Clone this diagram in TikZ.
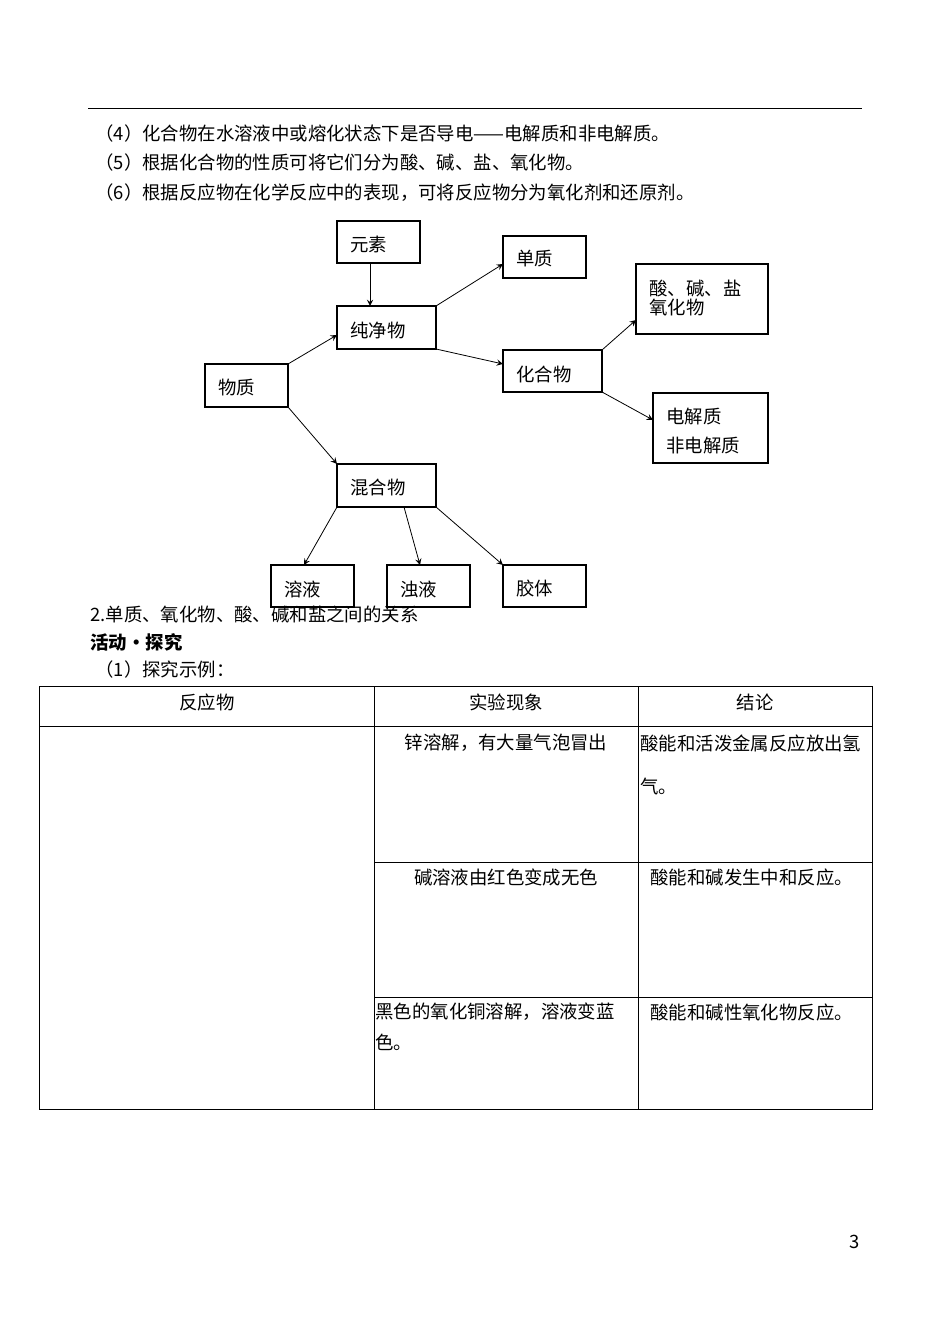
\documentclass[tikz,border=0pt]{standalone}
\usepackage{fontspec}
\setmainfont{Noto Sans CJK SC}
\usepackage{tikz}
\usetikzlibrary{positioning}
\tikzset{
  box/.style={draw=black,thick},
  arr/.style={-stealth,thin},
  txt/.style={anchor=west,inner sep=0pt,font=\fontsize{9.2}{13}\selectfont},
  ctr/.style={inner sep=0pt,font=\fontsize{9.2}{13}\selectfont}
}
\begin{document}
\begin{tikzpicture}[x=0.5pt,y=-0.5pt]
\useasboundingbox (0,0) rectangle (950,1342);
\draw (88,108) -- (862,108);
\node[txt] (l4) at (95,134) {（4）化合物在水溶液中或熔化状态下是否导电——电解质和非电解质。};
\node[txt] (l5) at (95,163) {（5）根据化合物的性质可将它们分为酸、碱、盐、氧化物。};
\node[txt] (l6) at (95,193) {（6）根据反应物在化学反应中的表现，可将反应物分为氧化剂和还原剂。};

% boxes
\draw[box] (337,221) rectangle (420,263);
\node[txt] (ys) at (350,244) {元素};
\draw[box] (503,236) rectangle (586,278);
\node[txt] (dz) at (516,259) {单质};
\draw[box] (337,306) rectangle (436,349);
\node[txt] (cjw) at (350,330) {纯净物};
\draw[box] (636,264) rectangle (768,334);
\node[txt] (sjy) at (649,289) {酸、碱、盐};
\node[txt] (yhw) at (649,308) {氧化物};
\draw[box] (205,364) rectangle (288,407);
\node[txt] (wz) at (218,388) {物质};
\draw[box] (503,350) rectangle (602,392);
\node[txt] (hhw) at (516,374) {化合物};
\draw[box] (653,393) rectangle (768,463);
\node[txt] (djz) at (666,417) {电解质};
\node[txt] (fdjz) at (666,446) {非电解质};
\draw[box] (337,464) rectangle (436,507);
\node[txt] (hhw2) at (350,488) {混合物};
\draw[box] (271,565) rectangle (354,607);
\node[txt] (ry) at (284,589) {溶液};
\draw[box] (387,565) rectangle (470,607);
\node[txt] (zy) at (400,589) {浊液};
\draw[box] (503,565) rectangle (586,607);
\node[txt] (jt) at (516,589) {胶体};

% arrows
\coordinate (a1) at (370,263); \coordinate (a2) at (370,306);
\draw[arr] (a1) -- (a2);
\coordinate (b1) at (436,306); \coordinate (b2) at (503,264);
\draw[arr] (b1) -- (b2);
\coordinate (c1) at (436,349); \coordinate (c2) at (503,364);
\draw[arr] (c1) -- (c2);
\coordinate (d1) at (288,364); \coordinate (d2) at (337,335);
\draw[arr] (d1) -- (d2);
\coordinate (e1) at (288,407); \coordinate (e2) at (337,464);
\draw[arr] (e1) -- (e2);
\coordinate (f1) at (602,350); \coordinate (f2) at (636,320);
\draw[arr] (f1) -- (f2);
\coordinate (g1) at (602,392); \coordinate (g2) at (653,420);
\draw[arr] (g1) -- (g2);
\coordinate (h1) at (337,507); \coordinate (h2) at (304,565);
\draw[arr] (h1) -- (h2);
\coordinate (i1) at (404,507); \coordinate (i2) at (420,565);
\draw[arr] (i1) -- (i2);
\coordinate (j1) at (436,507); \coordinate (j2) at (503,565);
\draw[arr] (j1) -- (j2);

\node[txt] (s2) at (90,614) {2.单质、氧化物、酸、碱和盐之间的关系};
\node[txt,font=\fontsize{9.2}{13}\selectfont\bfseries] (hd) at (90,642) {活动·探究};
\node[txt] (s1) at (95,670) {（1）探究示例：};

% table
\draw (39,686) rectangle (872,1109);
\draw (374,686) -- (374,1109);
\draw (638,686) -- (638,1109);
\draw (39,726) -- (872,726);
\draw (374,862) -- (872,862);
\draw (374,997) -- (872,997);
\node[ctr] (t1) at (207,702) {反应物};
\node[ctr] (t2) at (506,702) {实验现象};
\node[ctr] (t3) at (755,702) {结论};
\node[ctr] (r1) at (506,743) {锌溶解，有大量气泡冒出};
\node[txt] (c1a) at (640,743) {酸能和活泼金属反应放出氢};
\node[txt] (c1b) at (640,786) {气。};
\node[ctr] (r2) at (506,877) {碱溶液由红色变成无色};
\node[txt] (c2) at (650,877) {酸能和碱发生中和反应。};
\node[txt] (r3a) at (375,1012) {黑色的氧化铜溶解，溶液变蓝};
\node[txt] (r3b) at (375,1042) {色。};
\node[txt] (c3) at (650,1012) {酸能和碱性氧化物反应。};
\node[ctr] (pg) at (855,1242) {3};
\end{tikzpicture}
\end{document}
